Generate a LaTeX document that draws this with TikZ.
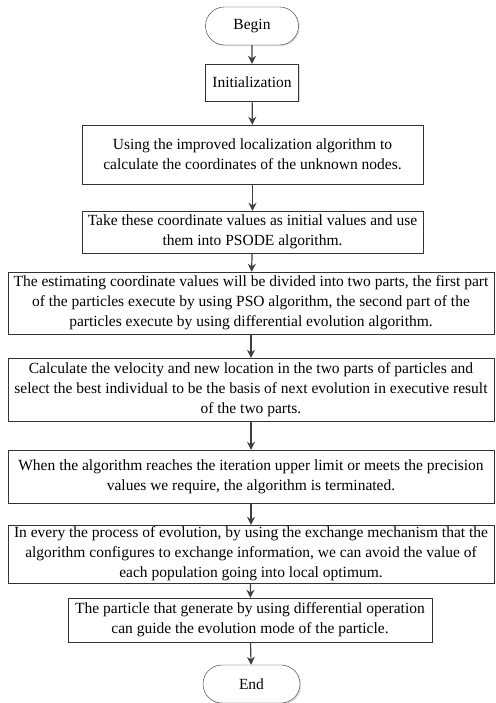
\documentclass[tikz,border=0pt]{standalone}
\usepackage{fontspec}
\setmainfont{Liberation Serif}
\usetikzlibrary{shapes.misc,shadows,arrows.meta}

\tikzset{
  terminal/.style={draw=black!80, rounded rectangle, minimum width=93pt,
                   minimum height=38pt, inner sep=0pt, fill=white,
                   drop shadow={shadow xshift=1.2pt, shadow yshift=-1.2pt, fill=black!25}},
  process/.style={draw=black!80, rectangle, inner sep=0pt, fill=white, align=center,
                  drop shadow={shadow xshift=1.2pt, shadow yshift=-1.2pt, fill=black!25}},
  flow/.style={draw=black!75, line width=1.2pt, -{Stealth[length=8pt,width=8pt]}}
}

\begin{document}
\begin{tikzpicture}[x=1pt, y=-1pt,
                    font=\fontsize{15.5}{20}\selectfont]
\useasboundingbox (0,0) rectangle (495,703);

\node[terminal] (begin) at (252,26) {Begin};
\node[process, minimum width=93pt, minimum height=37pt] (init) at (252,82.5) {Initialization};
\node[process, minimum width=341pt, minimum height=59pt] (loc) at (252.5,154.5)
  {Using the improved localization algorithm to\\calculate the coordinates of the unknown nodes.};
\node[process, minimum width=341pt, minimum height=42pt] (take) at (252.5,232)
  {Take these coordinate values as initial values and use\\them into PSODE algorithm.};
\node[process, minimum width=486pt, minimum height=62pt] (divide) at (251,303)
  {The estimating coordinate values will be divided into two parts, the first part\\
   of the particles execute by using PSO algorithm, the second part of the\\
   particles execute by using differential evolution algorithm.};
\node[process, minimum width=486pt, minimum height=63pt] (calc) at (251,389.5)
  {Calculate the velocity and new location in the two parts of particles and\\
   select the best individual to be the basis of next evolution in executive result\\
   of the two parts.};
\node[process, minimum width=486pt, minimum height=53pt] (term) at (251,476.5)
  {When the algorithm reaches the iteration upper limit or meets the precision\\
   values we require, the algorithm is terminated.};
\node[process, minimum width=486pt, minimum height=58pt] (exch) at (251,554)
  {In every the process of evolution, by using the exchange mechanism that the\\
   algorithm configures to exchange information, we can avoid the value of\\
   each population going into local optimum.};
\node[process, minimum width=364pt, minimum height=44pt] (guide) at (250,620)
  {The particle that generate by using differential operation\\
   can guide the evolution mode of the particle.};
\node[terminal, minimum width=97pt] (end) at (251.5,684) {End};

\foreach \a/\b in {begin/init, init/loc, loc/take, take/divide, divide/calc,
                   calc/term, term/exch, exch/guide, guide/end}
  \draw[flow] (\a) -- (\b);
\end{tikzpicture}
\end{document}
